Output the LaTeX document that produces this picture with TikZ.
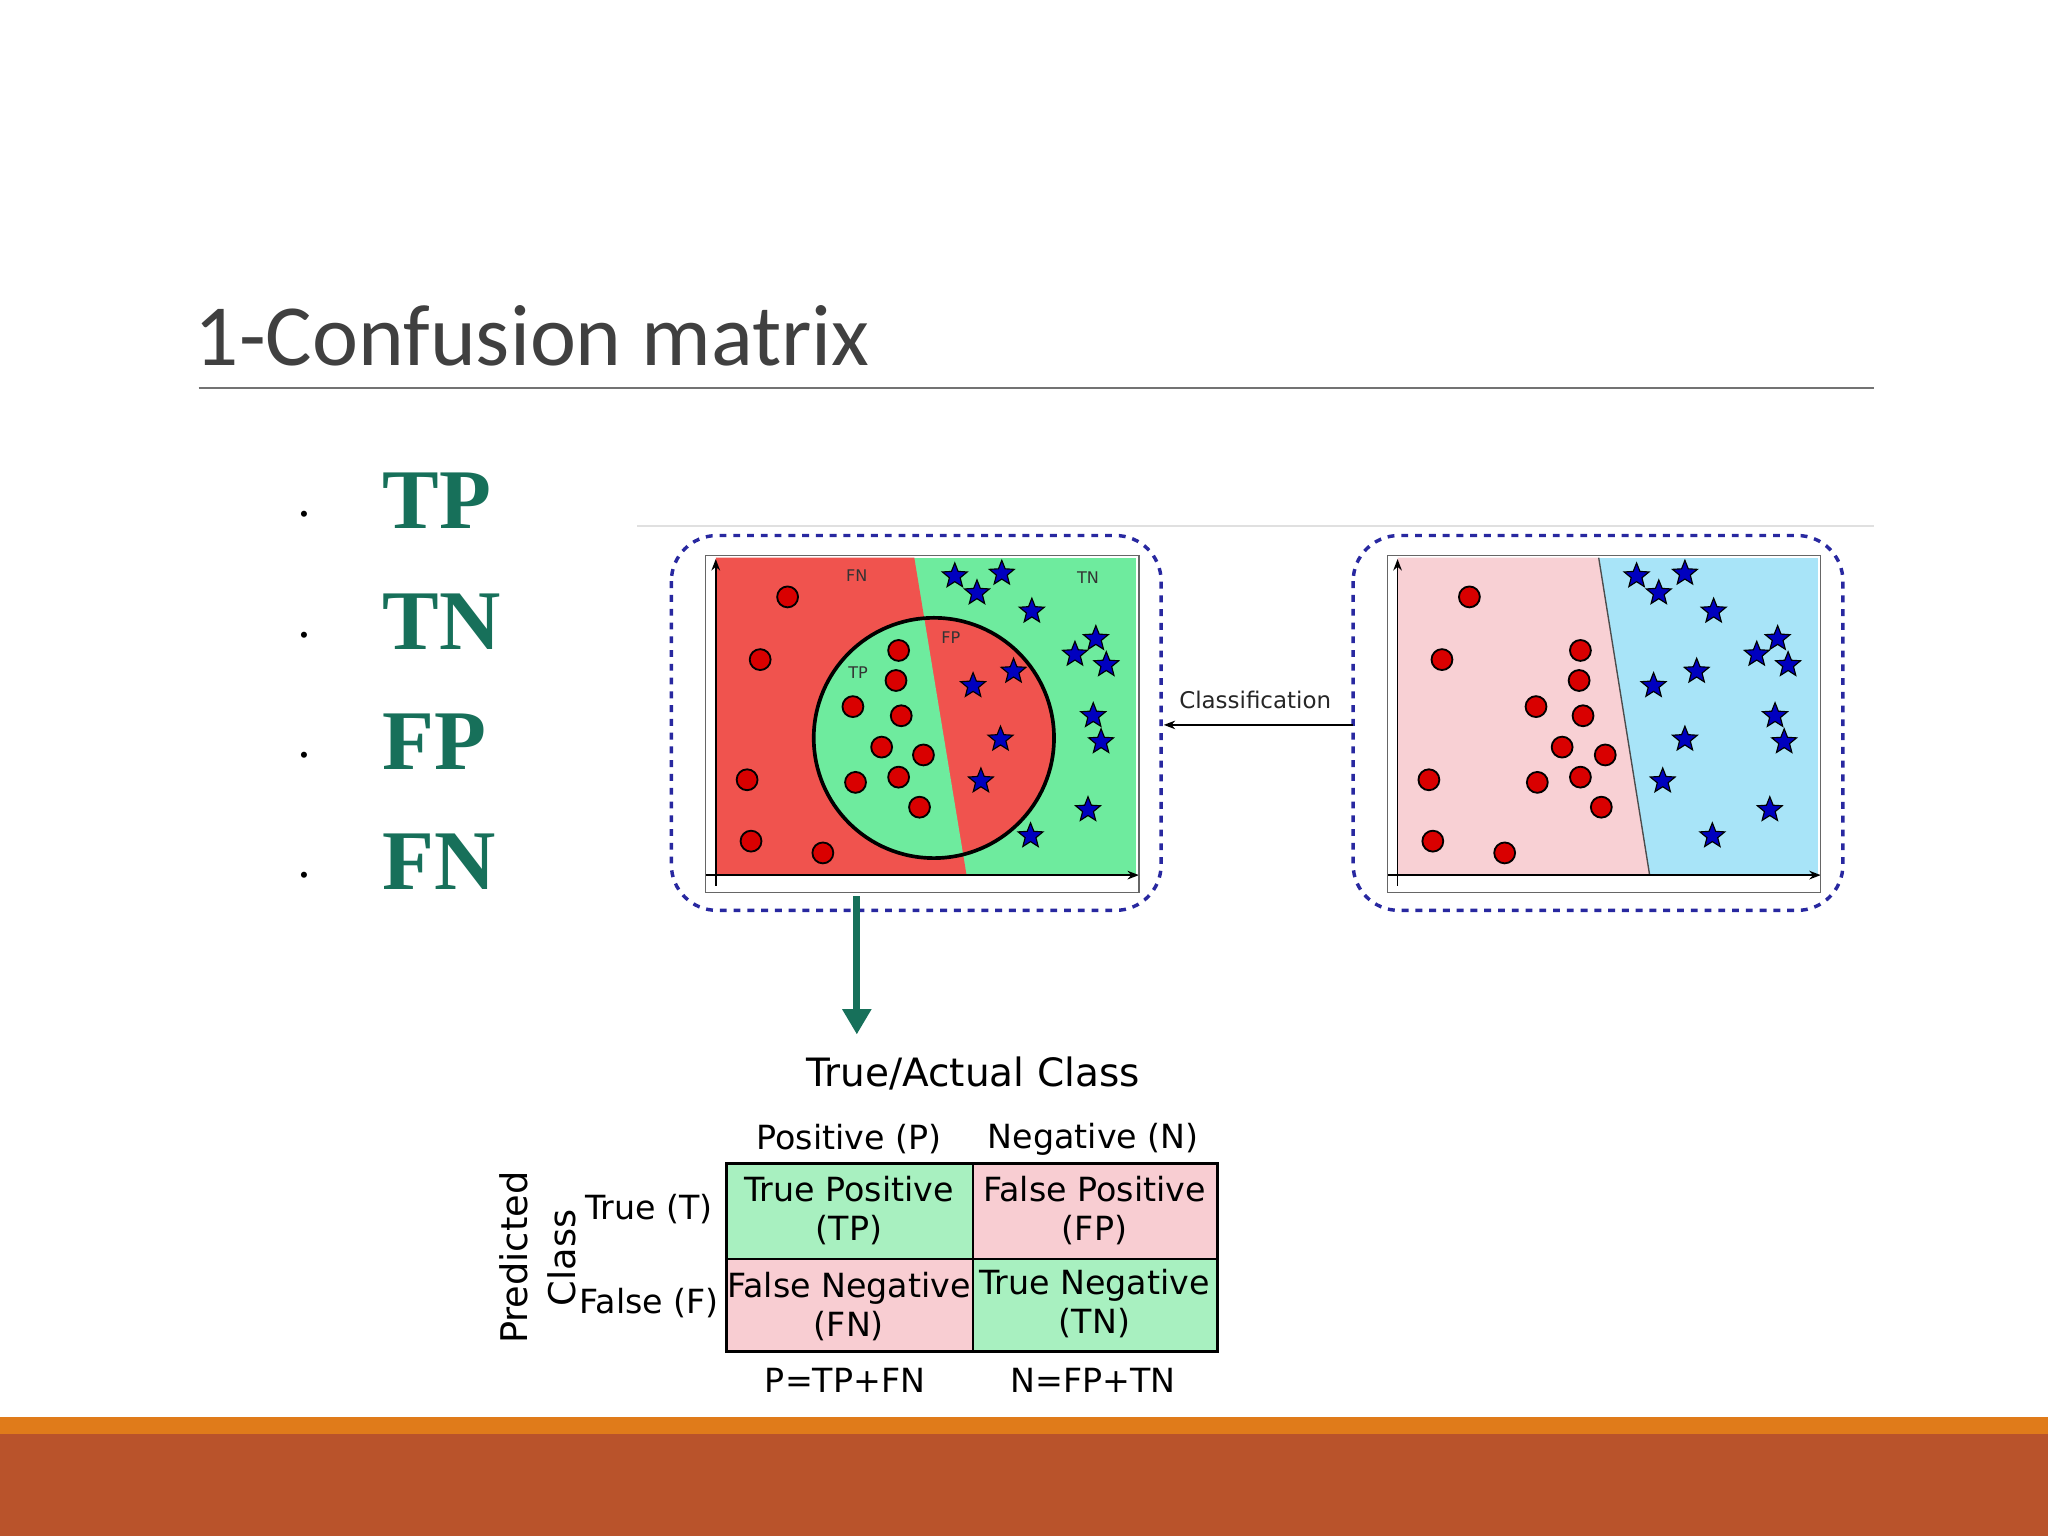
\documentclass[tikz,border=0pt]{standalone}
\usepackage{fontspec}
\setmainfont{DejaVu Sans}
\newfontfamily\titlefont{Carlito}
\newfontfamily\bulfont{Liberation Serif}
\usetikzlibrary{shapes.geometric,arrows.meta}
\definecolor{dgreen}{HTML}{17705A}
\definecolor{pred}{HTML}{F0534E}
\definecolor{pgreen}{HTML}{6EEB9E}
\definecolor{lpink}{HTML}{F8D0D4}
\definecolor{lblue}{HTML}{A8E4F8}
\definecolor{cgreen}{HTML}{A8F0C0}
\definecolor{cpink}{HTML}{F8CDD2}
\definecolor{navy}{HTML}{2828A0}
\definecolor{barorange}{HTML}{E07B1A}
\definecolor{barbrown}{HTML}{B9532B}
\begin{document}
\begin{tikzpicture}[x=0.02cm,y=-0.02cm,
  dot/.style={circle,draw=black,fill=red!85!black,line width=0.8pt,minimum size=0.32cm,inner sep=0pt},
  starm/.style={star,star points=5,star point ratio=2.3,draw=black,fill=blue!75!black,line width=0.5pt,minimum size=0.4cm,inner sep=0pt},
  bul/.style={anchor=base west,font=\bulfont\bfseries\fontsize{37}{40}\selectfont,text=dgreen},
  dotb/.style={anchor=base,font=\fontsize{30}{30}\selectfont},
  tl/.style={font=\fontsize{14.5}{17}\selectfont,align=center},
  plab/.style={font=\fontsize{7}{8}\selectfont,text=black!80}]
\fill[white] (0,0) rectangle (1568,1176);
\fill[barorange] (0,1085) rectangle (1568,1098);
\fill[barbrown] (0,1098) rectangle (1568,1176);
\node[anchor=base west,font=\titlefont\fontsize{38}{40}\selectfont,text=black!75] (title) at (143,280) {1-Confusion matrix};
\draw[black!55,line width=0.6pt] (152,297) -- (1435,297);
\draw[black!12,line width=0.8pt] (488,403) -- (1435,403);
\foreach \t/\y [count=\i] in {TP/405,TN/497,FP/589,FN/681}{
  \node[dotb] (b\i) at (233,\y) {$\cdot$};
  \node[bul] (w\i) at (287,\y) {\t};
}
% left panel
\fill[pgreen] (548,427) rectangle (870,670);
\fill[pred] (548,427) -- (700,427) -- (740,670) -- (548,670) -- cycle;
\begin{scope}
\clip (715,565) circle[radius=1.84cm];
\fill[pred] (600,450) rectangle (830,680);
\fill[pgreen] (548,427) -- (700,427) -- (740,670) -- (548,670) -- cycle;
\end{scope}
\draw[line width=1.6pt] (715,565) circle[radius=1.84cm];
\draw[-{Stealth[length=5pt]},line width=0.8pt] (548,678) -- (548,428);
\draw[-{Stealth[length=5pt]},line width=0.8pt] (540,670) -- (872,670);
\draw[black!60,line width=0.5pt] (540,425) rectangle (872,683);
\draw[navy,dashed,line width=1.5pt,rounded corners=0.7cm] (514,410) rectangle (889,697);
\node[plab] (fn) at (656,441) {FN};
\node[plab] (tn) at (833,442) {TN};
\node[plab] (fp) at (728,488) {FP};
\node[plab] (tp) at (657,515) {TP};
\foreach \x/\y in {603/457,582/505,572/597,575/644,630/653,688/498,686/521,653/541,690/548,675/572,707/578,688/595,655/599,704/618}
  \node[dot] at (\x,\y) {};
\foreach \x/\y in {731/441,748/454,767/439,790/468,839/489,823/501,847/509,776/514,745/525,837/548,843/568,766/566,751/598,833/620,789/640}
  \node[starm] at (\x,\y) {};
% right panel
\fill[lblue] (1070,427) rectangle (1392,670);
\fill[lpink] (1070,427) -- (1224,427) -- (1263,670) -- (1070,670) -- cycle;
\draw[black!70,line width=0.6pt] (1224,427) -- (1263,670);
\draw[-{Stealth[length=5pt]},line width=0.8pt] (1070,678) -- (1070,428);
\draw[-{Stealth[length=5pt]},line width=0.8pt] (1062,670) -- (1394,670);
\draw[black!60,line width=0.5pt] (1062,425) rectangle (1394,683);
\draw[navy,dashed,line width=1.5pt,rounded corners=0.7cm] (1036,410) rectangle (1411,697);
\foreach \x/\y in {1125/457,1104/505,1210/498,1209/521,1176/541,1212/548,1196/572,1229/578,1210/595,1177/599,1226/618,1094/597,1097/644,1152/653}
  \node[dot] at (\x,\y) {};
\foreach \x/\y in {1253/441,1270/454,1290/439,1312/468,1361/489,1345/501,1369/509,1299/514,1266/525,1359/548,1366/568,1290/566,1273/598,1355/620,1311/640}
  \node[starm] at (\x,\y) {};
\coordinate (cr) at (1036,555);
\coordinate (cl) at (891,555);
\draw[-{Stealth[length=5pt]},line width=0.6pt] (cr) -- (cl);
\node[font=\fontsize{10}{12}\selectfont,text=black!85] (cls) at (961,536) {Classification};
\coordinate (ga) at (656,686);
\coordinate (gb) at (656,792);
\draw[dgreen,line width=3pt,-{Triangle[length=11pt,width=12pt]}] (ga) -- (gb);
% table
\node[font=\fontsize{17}{20}\selectfont] (tac) at (745,822) {True/Actual Class};
\node[tl] (hp) at (650,872) {Positive (P)};
\node[tl] (hn) at (837,872) {Negative (N)};
\draw[fill=cgreen,line width=1.2pt] (556,891) rectangle (745,964);
\draw[fill=cpink,line width=1.2pt] (745,891) rectangle (932,964);
\draw[fill=cpink,line width=1.2pt] (556,964) rectangle (745,1035);
\draw[fill=cgreen,line width=1.2pt] (745,964) rectangle (932,1035);
\node[tl] (ctp) at (650,927) {True Positive\\(TP)};
\node[tl] (cfp) at (838,927) {False Positive\\(FP)};
\node[tl] (cfn) at (650,1000) {False Negative\\(FN)};
\node[tl] (ctn) at (838,998) {True Negative\\(TN)};
\node[tl] (rt) at (497,926) {True (T)};
\node[tl] (rf) at (497,998) {False (F)};
\node[font=\fontsize{16}{18}\selectfont,rotate=90] (pr) at (393,963) {Predicted};
\node[font=\fontsize{16}{18}\selectfont,rotate=90] (pc) at (430,963) {Class};
\node[tl] (sp) at (647,1057) {P=TP+FN};
\node[tl] (sn) at (837,1057) {N=FP+TN};
\end{tikzpicture}
\end{document}
